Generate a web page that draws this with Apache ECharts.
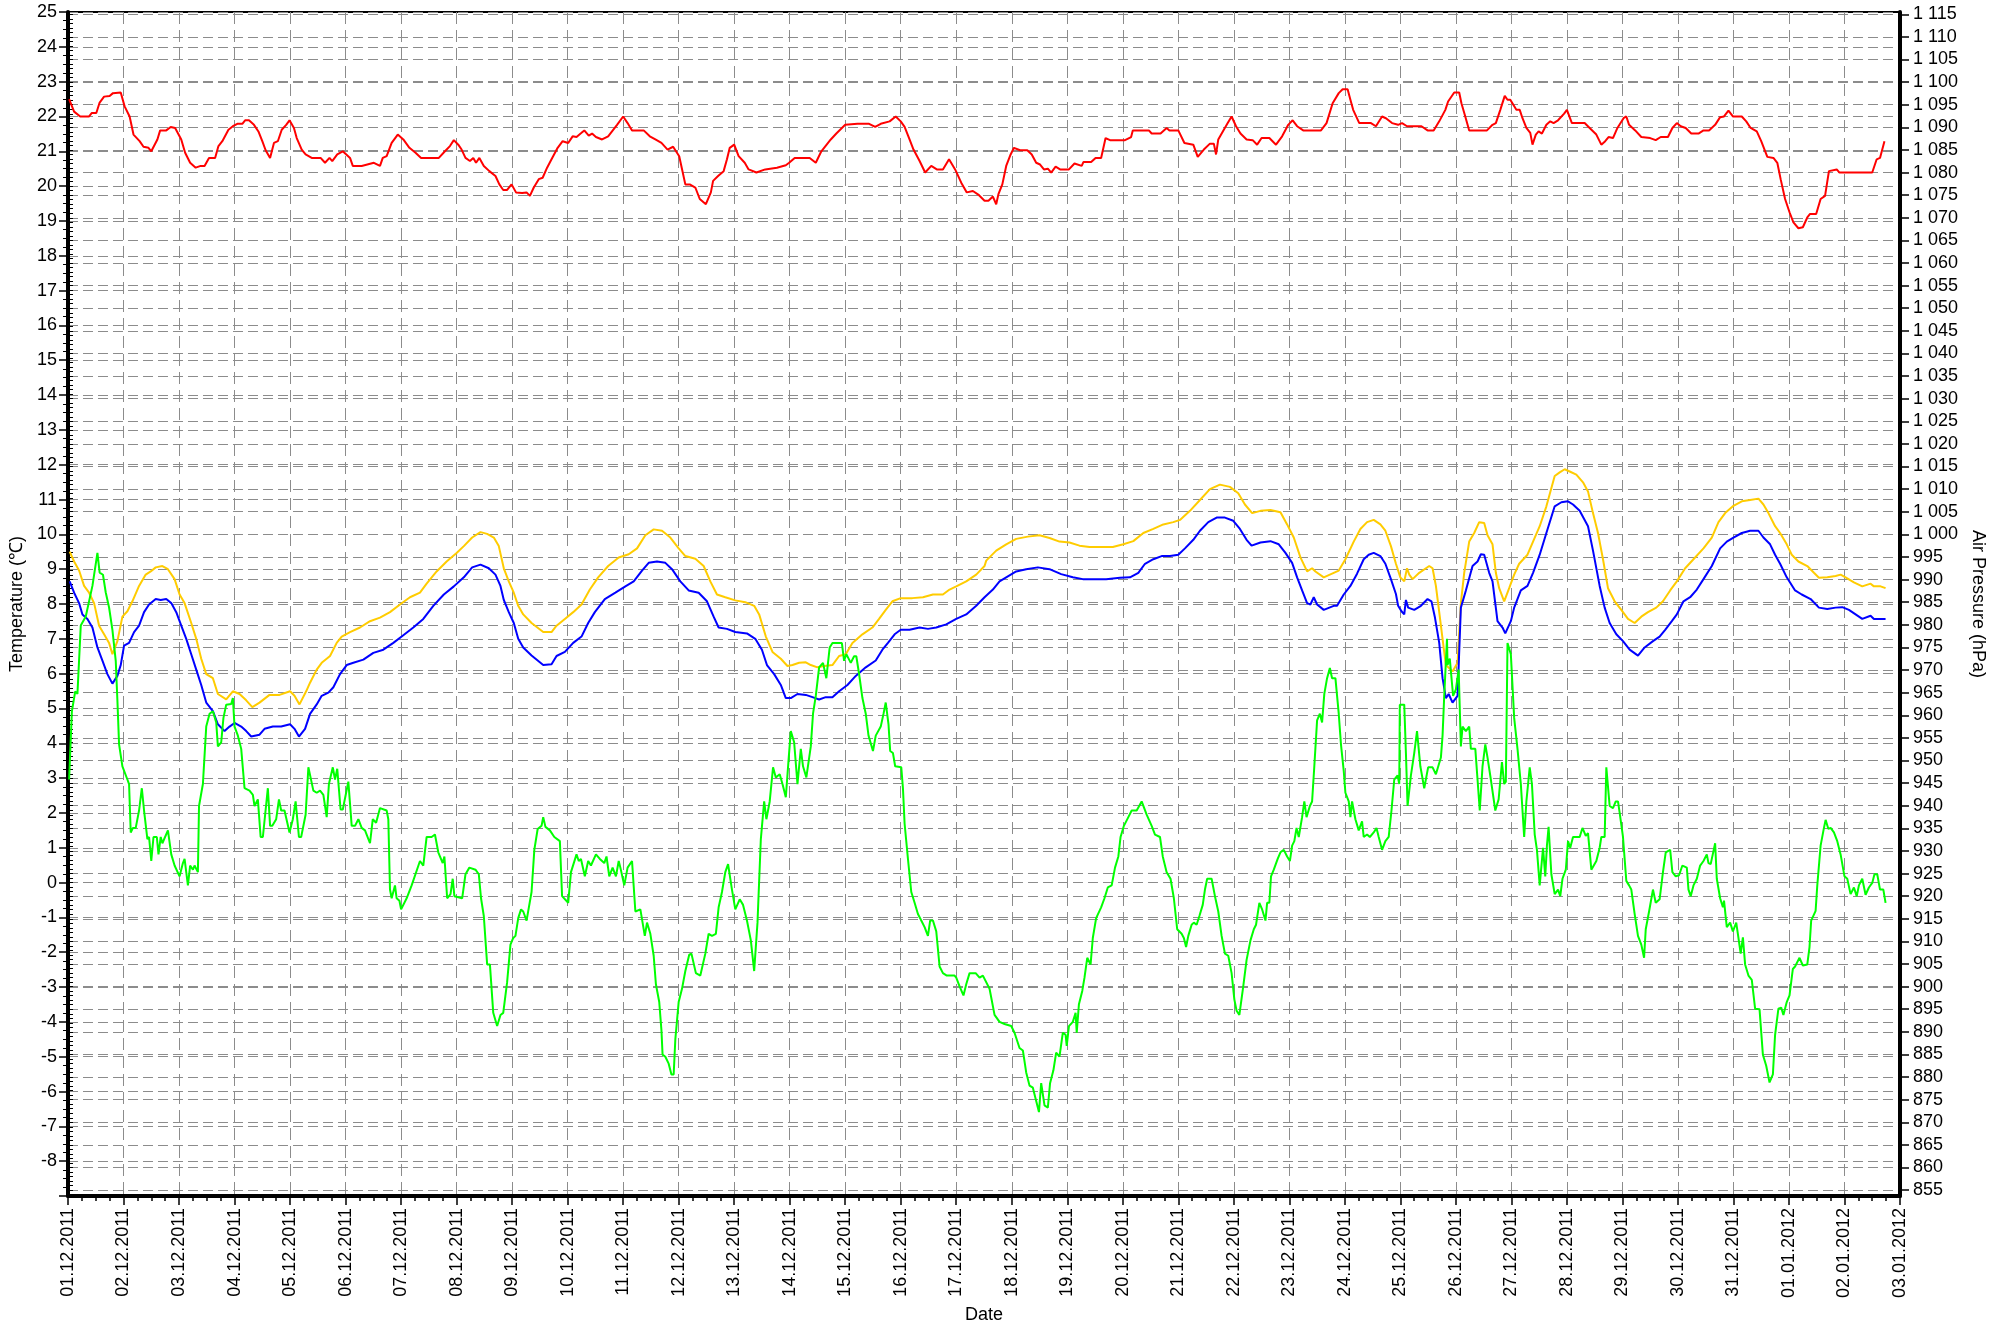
<!DOCTYPE html>
<html>
<head>
<meta charset="utf-8">
<script src="https://cdn.jsdelivr.net/npm/echarts@6/dist/echarts.min.js"></script>
<style>
  html, body { margin: 0; padding: 0; background: #fff; }
  #main { width: 2009px; height: 1329px; }
</style>
</head>
<body>
<div id="main"></div>
<script>
// x axis tick labels (one per day)
var dateLabels = ['01.12.2011', '02.12.2011', '03.12.2011', '04.12.2011', '05.12.2011', '06.12.2011',
    '07.12.2011', '08.12.2011', '09.12.2011', '10.12.2011', '11.12.2011', '12.12.2011', '13.12.2011',
    '14.12.2011', '15.12.2011', '16.12.2011', '17.12.2011', '18.12.2011', '19.12.2011', '20.12.2011',
    '21.12.2011', '22.12.2011', '23.12.2011', '24.12.2011', '25.12.2011', '26.12.2011', '27.12.2011',
    '28.12.2011', '29.12.2011', '30.12.2011', '31.12.2011', '01.01.2012', '02.01.2012', '03.01.2012'];

// pressure axis labels (hPa)
var pressureTicks = [855, 860, 865, 870, 875, 880, 885, 890, 895, 900, 905, 910, 915, 920, 925, 930, 935,
    940, 945, 950, 955, 960, 965, 970, 975, 980, 985, 990, 995, 1000, 1005, 1010, 1015, 1020, 1025, 1030,
    1035, 1040, 1045, 1050, 1055, 1060, 1065, 1070, 1075, 1080, 1085, 1090, 1095, 1100, 1105, 1110, 1115];

// red: indoor temperature (days since 01.12.2011, degC)
var indoorDays = [0.02,0.11,0.22,0.38,0.43,0.51,0.57,0.65,0.75,0.81,0.95,1.02,1.11,1.18,1.29,1.36,1.45,1.5,1.61,1.66,1.77,1.85,1.93,2.04,2.11,2.2,2.3,2.39,2.46,2.54,2.65,2.71,2.78,2.89,2.97,3.05,3.14,3.19,3.26,3.35,3.43,3.5,3.56,3.64,3.71,3.78,3.85,3.93,3.99,4.07,4.12,4.21,4.28,4.39,4.55,4.63,4.71,4.76,4.85,4.95,5.08,5.13,5.29,5.51,5.62,5.67,5.74,5.83,5.94,6.04,6.15,6.26,6.36,6.68,6.79,6.88,6.95,7.03,7.09,7.16,7.24,7.3,7.35,7.41,7.49,7.59,7.7,7.77,7.84,7.91,7.99,8.07,8.18,8.26,8.32,8.39,8.48,8.55,8.63,8.71,8.82,8.91,9.01,9.09,9.16,9.25,9.3,9.38,9.44,9.51,9.62,9.73,9.89,10.0,10.08,10.16,10.37,10.48,10.58,10.69,10.8,10.9,11.01,11.12,11.2,11.3,11.38,11.49,11.58,11.62,11.71,11.81,11.87,11.92,12.0,12.08,12.19,12.26,12.4,12.56,12.77,12.93,12.99,13.09,13.36,13.47,13.57,13.74,13.84,14.0,14.22,14.43,14.54,14.64,14.8,14.91,15.0,15.07,15.15,15.23,15.34,15.44,15.55,15.65,15.76,15.87,15.98,16.09,16.19,16.3,16.41,16.51,16.58,16.66,16.72,16.76,16.83,16.9,16.98,17.04,17.15,17.28,17.36,17.44,17.51,17.58,17.65,17.71,17.79,17.87,18.03,18.13,18.26,18.29,18.43,18.51,18.61,18.69,18.77,19.04,19.15,19.18,19.47,19.52,19.68,19.79,19.84,20.0,20.11,20.27,20.35,20.46,20.57,20.64,20.68,20.72,20.82,20.89,20.96,21.04,21.12,21.23,21.34,21.42,21.5,21.64,21.76,21.87,21.98,22.06,22.14,22.25,22.57,22.67,22.78,22.89,22.96,23.05,23.1,23.15,23.26,23.47,23.56,23.67,23.74,23.85,23.96,24.03,24.12,24.38,24.49,24.6,24.7,24.81,24.86,24.97,25.06,25.1,25.16,25.24,25.56,25.66,25.72,25.8,25.88,25.93,25.98,26.09,26.15,26.2,26.27,26.34,26.38,26.44,26.49,26.55,26.63,26.7,26.76,26.84,26.95,27.0,27.09,27.32,27.41,27.53,27.62,27.69,27.75,27.83,27.91,28.02,28.07,28.12,28.23,28.34,28.5,28.6,28.69,28.82,28.9,28.98,29.05,29.14,29.24,29.37,29.46,29.56,29.67,29.76,29.83,29.91,29.99,30.15,30.23,30.31,30.42,30.5,30.61,30.72,30.79,30.85,30.93,31.01,31.08,31.17,31.25,31.33,31.38,31.49,31.57,31.65,31.72,31.86,31.91,32.5,32.58,32.64,32.72];
var indoorTemp = [22.5,22.14,22.0,22.0,22.1,22.1,22.4,22.57,22.59,22.67,22.69,22.29,22.0,21.48,21.29,21.13,21.1,21.0,21.34,21.6,21.6,21.7,21.67,21.34,20.96,20.67,20.53,20.58,20.58,20.81,20.81,21.15,21.29,21.62,21.72,21.79,21.79,21.89,21.89,21.76,21.57,21.29,21.03,20.81,21.24,21.29,21.62,21.76,21.89,21.67,21.38,21.05,20.91,20.81,20.81,20.67,20.81,20.72,20.91,21.0,20.81,20.58,20.58,20.67,20.58,20.81,20.86,21.24,21.48,21.34,21.1,20.96,20.81,20.81,21.0,21.15,21.32,21.19,21.05,20.81,20.72,20.81,20.67,20.81,20.58,20.43,20.29,20.05,19.89,19.89,20.05,19.82,19.8,19.82,19.72,19.96,20.2,20.24,20.53,20.77,21.1,21.29,21.24,21.43,21.41,21.53,21.6,21.45,21.51,21.41,21.34,21.43,21.76,22.0,21.81,21.6,21.6,21.43,21.34,21.24,21.05,21.13,20.86,20.05,20.05,19.96,19.63,19.48,19.82,20.15,20.29,20.43,20.77,21.1,21.19,20.86,20.67,20.48,20.39,20.48,20.53,20.6,20.67,20.81,20.81,20.67,21.0,21.34,21.51,21.76,21.79,21.79,21.7,21.79,21.86,22.0,21.86,21.7,21.38,21.05,20.72,20.39,20.58,20.48,20.48,20.77,20.48,20.1,19.82,19.86,19.74,19.58,19.58,19.7,19.48,19.77,20.05,20.58,20.91,21.1,21.03,21.03,20.91,20.67,20.62,20.48,20.5,20.39,20.56,20.48,20.48,20.65,20.58,20.69,20.69,20.81,20.81,21.38,21.32,21.32,21.41,21.6,21.6,21.51,21.51,21.67,21.6,21.6,21.24,21.19,20.84,21.05,21.22,21.22,20.91,21.34,21.62,21.81,22.0,21.72,21.51,21.34,21.32,21.19,21.38,21.38,21.19,21.43,21.76,21.89,21.72,21.6,21.6,21.81,22.38,22.67,22.78,22.78,22.48,22.19,21.81,21.81,21.72,22.0,21.95,21.81,21.76,21.81,21.72,21.72,21.6,21.6,21.86,22.19,22.43,22.69,22.69,22.38,22.05,21.6,21.6,21.76,21.81,22.19,22.59,22.48,22.48,22.19,22.19,21.95,21.67,21.53,21.19,21.48,21.57,21.51,21.76,21.86,21.81,21.89,22.08,22.19,21.81,21.81,21.67,21.48,21.19,21.29,21.41,21.38,21.67,21.95,22.0,21.76,21.6,21.41,21.38,21.32,21.41,21.41,21.67,21.81,21.72,21.67,21.51,21.51,21.6,21.6,21.76,21.98,22.0,22.17,22.0,22.0,21.86,21.67,21.57,21.29,20.84,20.81,20.67,20.2,19.63,19.25,18.96,18.79,18.82,19.1,19.2,19.2,19.63,19.72,20.43,20.48,20.39,20.39,20.77,20.81,21.29];

// green: outdoor temperature (days, degC)
var outdoorDays = [0.02,0.07,0.13,0.17,0.23,0.32,0.44,0.53,0.57,0.63,0.68,0.74,0.8,0.86,0.89,0.92,0.98,1.07,1.1,1.13,1.17,1.22,1.28,1.33,1.37,1.43,1.46,1.5,1.54,1.6,1.63,1.67,1.7,1.8,1.86,1.92,2.01,2.07,2.1,2.16,2.2,2.25,2.28,2.34,2.36,2.43,2.49,2.55,2.61,2.67,2.7,2.76,2.8,2.85,2.94,2.97,3.0,3.06,3.12,3.18,3.27,3.33,3.36,3.42,3.47,3.51,3.6,3.64,3.68,3.75,3.8,3.84,3.9,3.99,4.05,4.1,4.16,4.2,4.28,4.33,4.42,4.48,4.54,4.6,4.66,4.7,4.77,4.81,4.85,4.91,4.95,5.01,5.05,5.11,5.17,5.23,5.29,5.35,5.44,5.49,5.55,5.62,5.74,5.77,5.8,5.83,5.89,5.92,5.97,6.0,6.1,6.19,6.34,6.4,6.46,6.55,6.61,6.67,6.75,6.78,6.83,6.89,6.93,6.96,7.1,7.16,7.23,7.34,7.4,7.44,7.49,7.55,7.6,7.66,7.73,7.79,7.84,7.91,7.97,8.02,8.06,8.11,8.16,8.2,8.26,8.35,8.4,8.46,8.53,8.56,8.6,8.68,8.76,8.86,8.9,9.01,9.06,9.16,9.2,9.24,9.31,9.37,9.42,9.51,9.58,9.66,9.7,9.75,9.81,9.87,9.92,9.95,10.02,10.08,10.16,10.22,10.31,10.39,10.43,10.49,10.55,10.59,10.65,10.69,10.71,10.76,10.82,10.87,10.91,10.94,11.0,11.06,11.12,11.19,11.23,11.31,11.39,11.48,11.54,11.6,11.67,11.72,11.78,11.84,11.89,11.96,12.02,12.1,12.16,12.23,12.3,12.36,12.42,12.48,12.54,12.58,12.64,12.7,12.75,12.82,12.87,12.93,12.98,13.02,13.08,13.14,13.2,13.24,13.3,13.38,13.42,13.47,13.53,13.6,13.66,13.72,13.77,13.94,13.98,14.02,14.1,14.16,14.2,14.25,14.31,14.37,14.42,14.5,14.55,14.64,14.69,14.73,14.78,14.81,14.86,14.9,15.01,15.04,15.07,15.13,15.19,15.25,15.31,15.37,15.43,15.49,15.53,15.58,15.64,15.7,15.76,15.83,15.97,16.0,16.06,16.13,16.18,16.24,16.35,16.42,16.48,16.51,16.6,16.69,16.78,16.87,16.99,17.05,17.14,17.2,17.26,17.32,17.38,17.44,17.49,17.53,17.59,17.65,17.69,17.75,17.8,17.86,17.92,17.97,17.99,18.03,18.1,18.15,18.17,18.21,18.27,18.31,18.36,18.42,18.46,18.52,18.61,18.67,18.73,18.8,18.86,18.92,18.96,19.02,19.1,19.16,19.25,19.34,19.37,19.43,19.52,19.58,19.67,19.72,19.79,19.86,19.92,19.98,20.06,20.1,20.14,20.18,20.24,20.28,20.33,20.38,20.44,20.48,20.52,20.6,20.66,20.72,20.78,20.84,20.9,20.96,21.01,21.05,21.1,21.17,21.23,21.3,21.36,21.4,21.46,21.51,21.57,21.6,21.64,21.67,21.72,21.79,21.84,21.9,21.96,22.01,22.05,22.09,22.13,22.17,22.23,22.27,22.31,22.37,22.41,22.45,22.5,22.55,22.59,22.63,22.68,22.73,22.77,22.83,22.89,22.93,22.98,23.01,23.07,23.1,23.13,23.19,23.25,23.31,23.34,23.4,23.45,23.52,23.57,23.61,23.67,23.73,23.79,23.84,23.89,23.95,23.98,23.99,24.07,24.1,24.13,24.19,24.25,24.3,24.36,24.43,24.5,24.58,24.64,24.73,24.76,24.79,24.84,24.85,24.89,24.95,25.0,25.05,25.09,25.12,25.18,25.24,25.27,25.35,25.39,25.43,25.48,25.53,25.57,25.63,25.71,25.77,25.83,25.87,25.9,25.93,25.99,26.05,26.11,26.17,26.23,26.27,26.33,26.37,26.42,26.46,26.51,26.57,26.61,26.64,26.67,26.72,26.78,26.84,26.88,26.92,26.98,27.02,27.06,27.11,27.23,27.28,27.34,27.38,27.44,27.53,27.59,27.62,27.68,27.71,27.77,27.83,27.88,27.92,27.95,28.01,28.07,28.12,28.16,28.22,28.28,28.34,28.39,28.42,28.48,28.55,28.6,28.67,28.73,28.78,28.86,28.9,28.96,29.02,29.08,29.16,29.19,29.23,29.28,29.34,29.4,29.46,29.52,29.55,29.59,29.67,29.7,29.76,29.81,29.83,29.88,29.94,29.99,30.05,30.09,30.13,30.17,30.21,30.27,30.33,30.39,30.47,30.53,30.59,30.65,30.71,30.75,30.81,30.86,30.9,30.96,31.01,31.07,31.11,31.19,31.25,31.33,31.37,31.4,31.48,31.51,31.57,31.63,31.66,31.71,31.75,31.81,31.87,31.93,32.0,32.05,32.11,32.17,32.22,32.26,32.32,32.38,32.44,32.5,32.54,32.59,32.64,32.7,32.74];
var outdoorTemp = [2.96,4.92,5.49,5.42,7.38,7.64,8.52,9.47,8.9,8.84,8.33,7.9,7.26,6.37,5.23,3.97,3.34,2.96,2.83,1.44,1.57,1.57,2.07,2.71,2.07,1.25,1.31,0.62,1.31,1.31,0.81,1.31,1.13,1.5,0.81,0.49,0.18,0.56,0.68,-0.08,0.49,0.37,0.49,0.3,2.2,2.83,4.48,4.85,4.92,4.6,3.91,4.03,4.73,5.11,5.13,5.3,4.48,4.22,3.84,2.71,2.64,2.52,2.2,2.39,1.31,1.31,2.71,1.63,1.63,1.82,2.39,2.07,2.07,1.44,1.82,2.33,1.31,1.31,1.95,3.31,2.64,2.58,2.64,2.52,1.88,2.83,3.31,2.96,3.27,2.1,2.1,2.58,2.9,1.63,1.63,1.82,1.57,1.5,1.13,1.82,1.72,2.14,2.07,1.82,-0.2,-0.45,-0.08,-0.45,-0.52,-0.77,-0.45,-0.08,0.62,0.49,1.31,1.31,1.38,0.87,0.56,0.75,-0.45,-0.33,0.11,-0.39,-0.45,0.24,0.43,0.37,0.24,-0.45,-0.96,-2.35,-2.35,-3.74,-4.12,-3.8,-3.74,-2.86,-1.78,-1.59,-1.53,-1.02,-0.77,-0.83,-1.09,-0.27,0.94,1.54,1.63,1.88,1.6,1.5,1.31,1.19,-0.39,-0.58,0.3,0.81,0.62,0.68,0.18,0.62,0.49,0.81,0.68,0.56,0.75,0.18,0.43,0.18,0.62,0.43,-0.08,0.43,0.62,-0.83,-0.77,-1.53,-1.15,-1.47,-2.1,-2.92,-3.43,-4.25,-4.94,-5.0,-5.2,-5.51,-5.51,-4.5,-3.43,-3.05,-2.54,-2.07,-2.04,-2.6,-2.67,-2.04,-1.47,-1.53,-1.47,-0.71,-0.27,0.3,0.53,-0.2,-0.77,-0.48,-0.64,-1.09,-1.66,-2.54,-1.15,1.25,2.33,1.82,2.33,3.31,3.02,3.11,2.83,2.45,3.53,4.35,4.03,2.83,3.84,3.34,3.02,3.91,4.85,5.36,6.18,6.31,5.87,6.75,6.88,6.88,6.37,6.56,6.31,6.5,6.5,5.99,5.3,4.85,4.22,3.78,4.22,4.48,4.85,5.17,4.54,3.78,3.72,3.34,3.31,2.71,1.69,0.68,-0.27,-0.58,-0.9,-1.09,-1.28,-1.53,-1.09,-1.09,-1.4,-2.41,-2.6,-2.67,-2.67,-2.73,-2.98,-3.24,-2.92,-2.6,-2.6,-2.73,-2.67,-2.67,-3.05,-3.8,-4.0,-4.06,-4.12,-4.31,-4.75,-4.82,-5.45,-5.83,-5.89,-6.27,-6.59,-5.76,-6.4,-6.46,-5.76,-5.39,-4.88,-5.0,-4.31,-4.37,-4.69,-4.12,-4.0,-3.74,-4.31,-3.49,-3.11,-2.73,-2.16,-2.35,-1.59,-1.02,-0.71,-0.45,-0.14,-0.08,0.43,0.75,1.31,1.63,1.88,2.07,2.07,2.33,2.33,1.95,1.63,1.38,1.31,0.75,0.3,0.11,-0.45,-1.34,-1.47,-1.59,-1.85,-1.53,-1.21,-1.15,-1.21,-0.96,-0.64,-0.2,0.11,0.11,-0.39,-0.83,-1.53,-2.04,-2.1,-2.6,-3.36,-3.68,-3.8,-2.98,-2.22,-1.66,-1.34,-1.21,-0.58,-0.77,-1.09,-0.58,-0.58,0.18,0.37,0.68,0.87,0.94,0.75,0.62,1.06,1.19,1.57,1.31,1.88,2.33,1.88,2.2,2.33,3.34,4.66,4.85,4.6,5.42,5.87,6.16,5.87,5.87,4.85,3.97,3.21,2.58,2.33,1.88,2.33,1.82,1.5,1.76,1.31,1.38,1.31,1.44,1.57,1.31,0.94,1.19,1.31,2.07,2.96,3.08,2.83,5.11,5.11,3.72,2.2,3.08,3.72,4.35,3.34,2.71,3.31,3.31,3.11,3.59,4.22,5.36,7.0,6.25,6.43,5.36,5.55,6.12,3.91,4.48,4.35,4.48,3.84,3.84,2.96,2.07,3.34,3.97,3.59,2.96,2.07,2.39,3.46,2.83,2.9,6.88,6.56,4.73,3.84,2.83,1.31,2.33,3.31,2.83,1.38,0.94,-0.08,1.0,0.18,1.06,1.6,0.24,-0.33,-0.2,-0.39,0.11,0.37,1.19,1.0,1.31,1.31,1.57,1.34,1.42,0.37,0.62,1.0,1.31,1.31,3.31,2.2,2.14,2.33,2.33,2.01,1.31,0.05,-0.08,-0.2,-0.9,-1.53,-1.78,-2.16,-1.34,-0.83,-0.2,-0.58,-0.48,0.3,0.87,0.94,0.3,0.18,0.21,0.49,0.43,-0.2,-0.39,-0.08,0.11,0.49,0.62,0.81,0.56,0.53,1.13,0.11,-0.45,-0.71,-0.52,-1.28,-1.15,-1.4,-1.15,-1.59,-2.04,-1.57,-2.35,-2.67,-2.79,-3.62,-3.64,-4.94,-5.26,-5.74,-5.51,-4.37,-3.62,-3.59,-3.8,-3.43,-3.24,-2.48,-2.41,-2.16,-2.38,-2.35,-1.85,-1.09,-0.81,-0.08,1.06,1.57,1.8,1.54,1.57,1.44,1.19,0.81,0.18,0.11,-0.33,-0.14,-0.39,-0.08,0.11,-0.35,-0.14,-0.01,0.24,0.24,-0.2,-0.2,-0.58];

// yellow: relative air pressure (days, hPa)
var relDays = [0.03,0.11,0.2,0.29,0.38,0.47,0.56,0.65,0.74,0.8,0.89,0.98,1.07,1.16,1.28,1.4,1.49,1.58,1.7,1.8,1.92,2.01,2.1,2.22,2.31,2.4,2.49,2.61,2.7,2.85,2.97,3.09,3.21,3.32,3.45,3.63,3.81,4.0,4.08,4.17,4.29,4.36,4.48,4.57,4.72,4.84,4.93,5.08,5.26,5.44,5.62,5.8,5.98,6.16,6.34,6.46,6.64,6.82,7.0,7.13,7.28,7.43,7.55,7.67,7.76,7.85,7.94,8.03,8.11,8.2,8.35,8.56,8.71,8.8,8.95,9.1,9.25,9.4,9.55,9.73,9.92,10.1,10.25,10.4,10.55,10.7,10.85,11.0,11.12,11.3,11.45,11.57,11.69,11.84,12.02,12.2,12.36,12.45,12.57,12.69,12.84,12.96,13.05,13.17,13.29,13.38,13.5,13.62,13.77,13.89,14.01,14.13,14.31,14.49,14.61,14.73,14.85,15.0,15.21,15.4,15.58,15.76,15.88,16.0,16.18,16.36,16.51,16.54,16.72,16.9,17.08,17.29,17.5,17.68,17.86,18.04,18.22,18.4,18.58,18.82,19.01,19.19,19.37,19.55,19.73,19.91,20.03,20.21,20.39,20.57,20.75,20.93,21.08,21.2,21.33,21.48,21.66,21.84,21.96,22.08,22.2,22.32,22.41,22.47,22.62,22.8,22.89,23.01,23.16,23.28,23.4,23.52,23.64,23.73,23.83,23.92,24.0,24.07,24.12,24.16,24.22,24.34,24.52,24.58,24.64,24.7,24.76,24.82,24.94,25.03,25.09,25.15,25.24,25.33,25.42,25.51,25.57,25.66,25.72,25.78,25.87,25.96,26.05,26.14,26.29,26.39,26.51,26.63,26.78,26.87,26.96,27.05,27.17,27.29,27.38,27.47,27.56,27.65,27.74,27.86,27.98,28.1,28.22,28.34,28.46,28.61,28.73,28.86,28.98,29.13,29.28,29.46,29.61,29.73,29.85,30.0,30.15,30.3,30.45,30.54,30.63,30.75,30.84,30.96,31.05,31.17,31.33,31.45,31.54,31.69,31.84,31.93,32.02,32.17,32.32,32.47,32.53,32.65,32.74];
var relPressure = [996.2,994.0,992.0,988.6,987.1,984.8,979.8,977.9,976.0,973.5,976.4,981.8,983.0,985.2,988.6,991.1,991.8,992.7,993.0,992.3,990.1,986.7,984.8,980.4,976.9,972.5,969.1,968.2,964.7,963.5,965.3,964.7,963.3,961.8,962.8,964.5,964.5,965.3,964.3,962.4,965.3,967.2,970.1,971.6,973.1,976.0,977.4,978.4,979.4,980.8,981.6,982.8,984.5,986.1,987.1,989.1,991.8,994.0,995.9,997.4,999.3,1000.5,1000.1,999.3,997.4,992.5,989.6,987.1,984.2,982.3,980.4,978.4,978.4,979.8,981.3,982.8,984.5,987.8,990.5,993.0,994.9,995.6,996.9,999.8,1001.1,1000.8,999.3,996.9,995.2,994.6,993.0,989.6,986.7,986.1,985.4,985.0,984.2,982.3,977.4,974.0,972.5,970.9,971.1,971.6,971.7,971.1,970.6,970.9,971.1,973.1,973.5,976.0,977.9,979.4,981.3,983.3,985.2,985.9,985.9,986.1,986.7,986.7,987.8,988.5,989.6,991.1,993.0,994.2,996.4,997.8,999.0,999.5,999.8,999.2,998.4,998.2,997.5,997.2,997.2,997.2,997.8,998.5,1000.3,1001.2,1002.2,1002.7,1003.2,1005.2,1007.6,1010.0,1011.0,1010.5,1009.1,1006.6,1004.7,1005.2,1005.4,1004.9,1002.2,999.3,994.9,991.8,992.5,991.8,990.5,991.5,992.0,994.5,998.4,1001.2,1002.7,1003.2,1002.2,1000.8,997.4,993.5,990.5,989.6,992.5,991.1,990.1,991.5,993.0,992.5,988.6,982.8,976.9,971.1,969.7,971.6,984.8,991.5,998.4,1000.3,1002.7,1002.5,999.8,997.8,991.5,988.1,985.2,988.1,991.1,993.5,995.5,998.4,1001.8,1006.2,1012.9,1013.7,1014.4,1013.9,1013.2,1011.5,1009.5,1004.7,1000.3,994.5,988.1,985.2,983.3,981.3,980.4,981.8,982.8,983.8,985.2,987.6,989.6,992.5,994.5,996.9,999.3,1002.7,1004.7,1006.3,1007.3,1007.6,1007.9,1006.6,1004.7,1001.8,1000.3,997.8,995.5,994.0,993.0,991.5,990.4,990.5,990.8,991.1,990.5,989.4,988.5,989.1,988.5,988.5,988.1];

// blue: absolute air pressure (days, hPa)
var absDays = [0.03,0.11,0.2,0.26,0.35,0.44,0.53,0.62,0.71,0.8,0.89,0.95,1.01,1.1,1.19,1.28,1.37,1.46,1.58,1.67,1.77,1.86,1.95,2.04,2.13,2.22,2.31,2.4,2.49,2.61,2.7,2.82,2.91,3.0,3.12,3.21,3.3,3.45,3.54,3.69,3.84,4.0,4.08,4.16,4.27,4.36,4.48,4.57,4.69,4.78,4.9,5.02,5.14,5.32,5.5,5.68,5.86,6.04,6.22,6.4,6.58,6.77,6.95,7.13,7.28,7.43,7.58,7.7,7.79,7.85,7.94,8.03,8.11,8.2,8.35,8.56,8.71,8.8,8.95,9.1,9.25,9.37,9.49,9.67,9.86,10.04,10.19,10.34,10.46,10.61,10.76,10.88,11.03,11.18,11.36,11.51,11.63,11.72,11.87,12.02,12.23,12.38,12.5,12.59,12.72,12.84,12.93,13.02,13.14,13.29,13.41,13.53,13.65,13.77,13.89,14.04,14.19,14.37,14.55,14.67,14.77,14.89,15.0,15.16,15.34,15.49,15.64,15.82,16.0,16.18,16.36,16.51,16.66,16.78,16.9,17.08,17.26,17.47,17.68,17.89,18.1,18.28,18.46,18.7,18.95,19.13,19.28,19.4,19.55,19.7,19.85,20.0,20.12,20.27,20.39,20.54,20.69,20.84,20.99,21.11,21.23,21.32,21.48,21.66,21.81,21.93,22.05,22.14,22.23,22.32,22.38,22.44,22.5,22.62,22.8,22.86,22.98,23.1,23.22,23.34,23.43,23.52,23.64,23.73,23.83,23.92,23.96,24.02,24.07,24.1,24.14,24.25,24.37,24.49,24.56,24.62,24.7,24.76,24.82,24.87,24.94,25.03,25.09,25.18,25.3,25.39,25.45,25.51,25.6,25.66,25.75,25.84,25.89,25.99,26.05,26.17,26.29,26.39,26.51,26.63,26.78,26.9,27.02,27.11,27.23,27.38,27.47,27.59,27.68,27.77,27.89,28.01,28.13,28.28,28.4,28.55,28.67,28.77,28.89,28.98,29.1,29.22,29.34,29.46,29.61,29.76,29.88,30.0,30.15,30.3,30.45,30.54,30.66,30.75,30.84,30.96,31.11,31.23,31.39,31.54,31.69,31.84,31.96,32.08,32.2,32.32,32.47,32.53,32.74];
var absPressure = [989.6,987.1,984.8,982.3,981.3,979.4,975.0,972.1,969.1,967.0,968.7,971.1,975.4,976.0,978.4,979.8,982.8,984.5,985.7,985.5,985.7,984.8,982.8,979.8,976.9,973.5,970.1,966.7,962.8,960.9,958.0,956.5,957.5,958.3,957.5,956.5,955.3,955.7,957.0,957.5,957.5,958.0,957.0,955.3,957.0,960.3,962.4,964.3,965.0,966.2,969.1,971.1,971.6,972.3,973.8,974.5,976.0,977.7,979.4,981.3,984.2,986.7,988.5,990.5,992.7,993.3,992.5,991.1,988.6,985.5,982.8,980.4,976.9,975.0,973.2,971.1,971.3,973.1,974.0,976.0,977.4,980.4,982.8,985.7,987.1,988.5,989.6,992.0,993.7,994.0,993.7,992.3,989.6,987.6,987.1,985.2,981.8,979.4,979.1,978.4,978.1,976.9,974.5,971.1,969.1,966.7,963.8,963.8,964.7,964.5,964.0,963.5,964.0,964.0,965.3,966.7,968.7,970.6,972.1,974.5,976.0,977.9,978.9,978.9,979.4,979.1,979.4,980.1,981.3,982.3,984.2,986.1,987.8,989.6,990.5,991.8,992.3,992.7,992.3,991.2,990.5,990.1,990.1,990.1,990.4,990.5,991.5,993.5,994.5,995.2,995.2,995.5,996.9,998.8,1000.8,1002.7,1003.7,1003.7,1003.0,1001.2,998.8,997.5,998.2,998.5,997.8,995.9,993.7,990.5,987.6,984.8,984.5,986.1,984.5,983.3,984.2,984.2,986.7,988.6,991.3,994.5,995.5,995.9,995.2,993.5,990.1,986.8,984.2,983.0,982.3,985.5,983.8,983.3,984.2,985.7,985.2,981.8,976.0,968.2,963.8,964.7,962.8,964.3,983.8,987.6,993.0,994.0,995.6,995.5,991.5,989.6,980.8,979.4,978.1,980.8,983.8,987.6,988.6,991.5,995.5,1000.3,1006.2,1007.1,1007.3,1006.6,1005.2,1001.8,996.4,988.6,983.8,980.4,977.9,976.4,974.5,973.2,975.0,976.4,977.4,978.9,980.8,982.3,985.2,986.1,987.8,990.1,993.0,996.9,998.4,999.3,1000.3,1000.8,1000.8,999.3,997.8,995.5,993.5,990.5,987.6,986.7,985.7,983.8,983.5,983.8,983.9,983.3,982.3,981.3,982.0,981.3,981.3];

function pairs(xs, ys) {
    var out = [];
    for (var i = 0; i < xs.length; i++) out.push([xs[i], ys[i]]);
    return out;
}

// 1 hPa minor ticks on the pressure axis
var pressureMinor = [];
for (var p = 854; p <= 1115; p++) pressureMinor.push(p);

var font = "'Liberation Sans', Arial, Helvetica, sans-serif";
var gridLine = { show: true, lineStyle: { color: '#8c8c8c', width: 1, type: [10, 5] } };

var myChart = echarts.init(document.getElementById('main'), null, { renderer: 'canvas' });

var option = {
    animation: false,
    backgroundColor: '#fff',
    textStyle: { fontFamily: font },
    grid: {
        left: 68, right: 109, top: 12, bottom: 125,
        show: true, borderColor: '#000', borderWidth: 2, backgroundColor: 'transparent'
    },
    xAxis: {
        type: 'value', min: 0, max: 33, interval: 1,
        name: 'Date', nameLocation: 'middle', nameGap: 106,
        nameTextStyle: { fontSize: 18, color: '#000', fontFamily: font },
        axisLine: { show: true, onZero: false, lineStyle: { color: '#000', width: 4 } },
        axisTick: { show: true, length: 9, lineStyle: { color: '#000', width: 1.5 } },
        minorTick: { show: true, splitNumber: 4, length: 5, lineStyle: { color: '#000', width: 1.5 } },
        axisLabel: {
            rotate: 90, margin: 12, fontSize: 18, color: '#000', fontFamily: font,
            formatter: function (v) { return dateLabels[Math.round(v)] || ''; }
        },
        splitLine: { show: true, lineStyle: { color: '#8c8c8c', width: 1, type: [12, 6] } }
    },
    yAxis: [
        {
            type: 'value', min: -9, max: 25, interval: 1, position: 'left',
            name: 'Temperature (℃)', nameLocation: 'middle', nameGap: 42, nameRotate: 90,
            nameTextStyle: { fontSize: 18, color: '#000', fontFamily: font },
            axisLine: { show: true, onZero: false, lineStyle: { color: '#000', width: 4 } },
            axisTick: { show: true, length: 9, lineStyle: { color: '#000', width: 1.5 } },
            minorTick: { show: true, splitNumber: 4, length: 5, lineStyle: { color: '#000', width: 1 } },
            axisLabel: {
                margin: 11, fontSize: 18, color: '#000', fontFamily: font,
                formatter: function (v) { return v === -9 ? '' : String(v); }
            },
            splitLine: gridLine
        },
        {
            type: 'value', min: 853.7, max: 1115.5, position: 'right',
            name: 'Air Pressure (hPa)', nameLocation: 'middle', nameGap: 68, nameRotate: -90,
            nameTextStyle: { fontSize: 18, color: '#000', fontFamily: font },
            axisLine: { show: true, onZero: false, lineStyle: { color: '#000', width: 4 } },
            axisTick: { show: true, length: 9, customValues: pressureTicks, lineStyle: { color: '#000', width: 1.5 } },
            axisLabel: {
                margin: 13, fontSize: 18, color: '#000', fontFamily: font, customValues: pressureTicks,
                formatter: function (v) {
                    var s = String(Math.round(v));
                    return s.length > 3 ? s.slice(0, s.length - 3) + ' ' + s.slice(-3) : s;
                }
            },
            splitLine: gridLine
        },
        {
            type: 'value', min: 853.7, max: 1115.5, position: 'right',
            axisLine: { show: false },
            axisTick: { show: true, length: 5, customValues: pressureMinor, lineStyle: { color: '#000', width: 1 } },
            axisLabel: { show: false },
            splitLine: { show: false }
        }
    ],
    series: [
        {
            name: 'Indoor', type: 'line', yAxisIndex: 0, showSymbol: false, symbol: 'none',
            data: pairs(indoorDays, indoorTemp),
            lineStyle: { color: '#ff0000', width: 2 }, itemStyle: { color: '#ff0000' }
        },
        {
            name: 'Relative pressure', type: 'line', yAxisIndex: 1, showSymbol: false, symbol: 'none',
            data: pairs(relDays, relPressure),
            lineStyle: { color: '#ffcc00', width: 2 }, itemStyle: { color: '#ffcc00' }
        },
        {
            name: 'Absolute pressure', type: 'line', yAxisIndex: 1, showSymbol: false, symbol: 'none',
            data: pairs(absDays, absPressure),
            lineStyle: { color: '#0000ff', width: 2 }, itemStyle: { color: '#0000ff' }
        },
        {
            name: 'Outdoor', type: 'line', yAxisIndex: 0, showSymbol: false, symbol: 'none',
            data: pairs(outdoorDays, outdoorTemp),
            lineStyle: { color: '#00ff00', width: 2 }, itemStyle: { color: '#00ff00' }
        }
    ]
};

myChart.setOption(option);
</script>
</body>
</html>
